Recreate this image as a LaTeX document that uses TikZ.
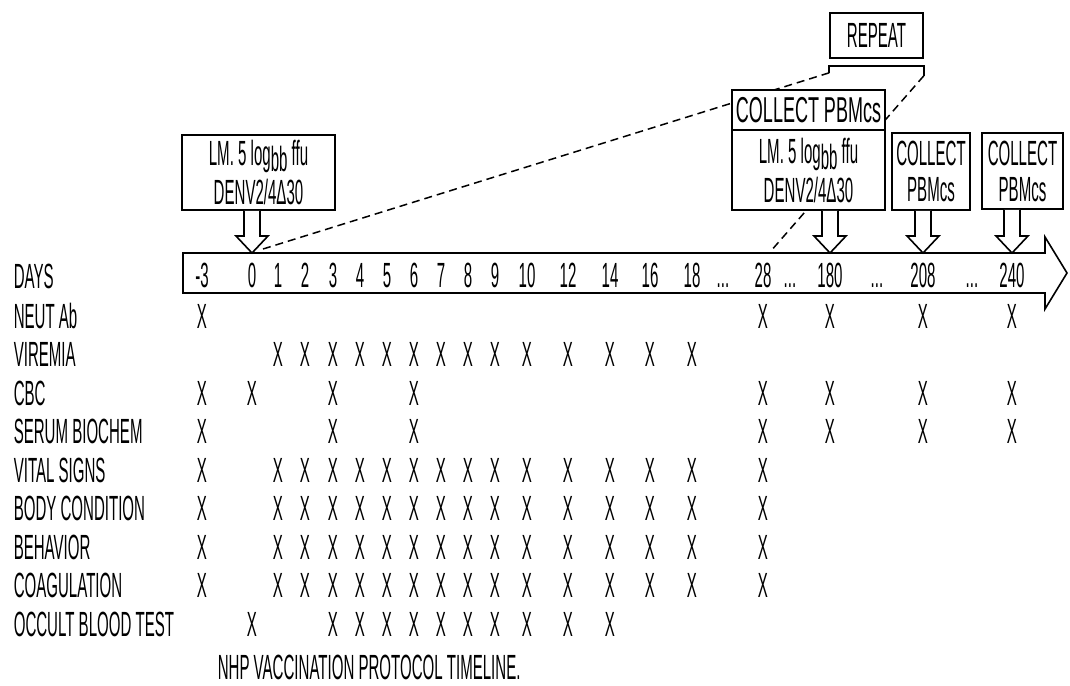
\documentclass[tikz,border=0pt]{standalone}
\usepackage{fontspec}
\newfontfamily\nf{Liberation Sans}[FakeStretch=0.43]
\newfontfamily\nfw{Liberation Sans}[FakeStretch=0.5]
\usetikzlibrary{calc}
\newcommand\harrow[2]{\draw[hollow] let \p1=(#1.south), \p2=(#2.base) in
  (\x2-8pt,\y1) -- (\x2-8pt,-236pt) -- (\x2-16pt,-236pt) -- (\x2,-253pt) --
  (\x2+16pt,-236pt) -- (\x2+8pt,-236pt) -- (\x2+8pt,\y1);}
\begin{document}
\begin{tikzpicture}[x=1pt,y=-1pt,line width=1.6pt,
  every node/.style={font=\nf\fontsize{35}{36}\selectfont,inner sep=0pt},
  box/.style={draw,fill=white,align=center},
  lbl/.style={anchor=base west},
  xm/.style={anchor=base},
  hollow/.style={draw,fill=white,line join=miter},
  dsh/.style={dash pattern=on 8pt off 5pt,line width=1.5pt}]
\path[use as bounding box] (0,0) rectangle (1070,685);

% timeline arrow
\draw[fill=white,line join=miter] (183,253) -- (1045,253) -- (1045,237) -- (1067,273)
  -- (1045,309) -- (1045,293) -- (183,293) -- cycle;

% day labels
\foreach \x/\t/\n in {202/-3/dm3,252/0/d0,278/1/d1,305/2/d2,333/3/d3,360/4/d4,
  387/5/d5,414/6/d6,441/7/d7,468/8/d8,495/9/d9,527/10/d10,568/12/d12,610/14/d14,
  650/16/d16,692/18/d18,763/28/d28,830/180/d180,923/208/d208,1012/240/d240}
  \node[xm] (\n) at (\x,287) {\t};
\foreach \x/\n in {723/e1,790/e2,877/e3,972/e4}
  \node[xm] (\n) at (\x,287) {...};

% row labels
\node[lbl] (rDays) at (13,288) {DAYS};
\foreach \i/\y/\t in {1/328/NEUT Ab,2/366.5/VIREMIA,3/405/CBC,4/443.5/SERUM BIOCHEM,
  5/482/VITAL SIGNS,6/520.5/BODY CONDITION,7/559/BEHAVIOR,8/597.5/COAGULATION,
  9/636/OCCULT BLOOD TEST}
  {\coordinate (row\i) at (0,\y);
   \node[lbl] (r\i) at (13,\y) {\t};}

% X marks
\foreach \r/\L in {
  1/{dm3,d28,d180,d208,d240},
  2/{d1,d2,d3,d4,d5,d6,d7,d8,d9,d10,d12,d14,d16,d18},
  3/{dm3,d0,d3,d6,d28,d180,d208,d240},
  4/{dm3,d3,d6,d28,d180,d208,d240},
  5/{dm3,d1,d2,d3,d4,d5,d6,d7,d8,d9,d10,d12,d14,d16,d18,d28},
  6/{dm3,d1,d2,d3,d4,d5,d6,d7,d8,d9,d10,d12,d14,d16,d18,d28},
  7/{dm3,d1,d2,d3,d4,d5,d6,d7,d8,d9,d10,d12,d14,d16,d18,d28},
  8/{dm3,d1,d2,d3,d4,d5,d6,d7,d8,d9,d10,d12,d14,d16,d18,d28},
  9/{d0,d3,d4,d5,d6,d7,d8,d9,d10,d12,d14}}
  {\foreach \n in \L
     \node[xm] (x\r\n) at (\n.base |- row\r) {X};}

% caption
\node[lbl] (cap) at (217,679) {NHP VACCINATION PROTOCOL TIMELINE.};

% REPEAT box and bracket
\node[box,minimum width=93pt,minimum height=45pt] (rep) at (876.5,35.5) {REPEAT};
\coordinate (bl) at ([yshift=-14pt]rep.south west);
\coordinate (br) at ([yshift=-17pt]rep.south east);
\draw[line join=miter] (bl) -- ([yshift=-7pt]rep.south west) -- ([yshift=-7pt]rep.south east) -- (br);

% dashed connectors
\coordinate (t0) at (263,249);
\coordinate (t28) at (770,252);
\draw[dsh] (bl) -- (t0);
\draw[dsh] (br) -- (t28);

% boxes
\node[box,minimum width=153pt,minimum height=75pt] (b1) at (258.5,172.5)
  {LM. 5 log\raisebox{-6pt}{bb} ffu\\[3pt]DENV2/4Δ30};
\node[box,minimum width=153pt,minimum height=80pt] (b2) at (808.5,170)
  {LM. 5 log\raisebox{-6pt}{bb} ffu\\[3pt]DENV2/4Δ30};
\node[box,minimum width=153pt,minimum height=40pt,font=\nfw\fontsize{36}{36}\selectfont] (c0) at (808.5,110)
  {COLLECT PBMcs};
\node[box,minimum width=78pt,minimum height=77pt] (c1) at (931,171.5)
  {COLLECT\\PBMcs};
\node[box,minimum width=81pt,minimum height=76pt] (c2) at (1022.5,171)
  {COLLECT\\PBMcs};

% hollow arrows
\harrow{b1}{d0}
\harrow{b2}{d180}
\harrow{c1}{d208}
\harrow{c2}{d240}
\end{tikzpicture}
\end{document}
